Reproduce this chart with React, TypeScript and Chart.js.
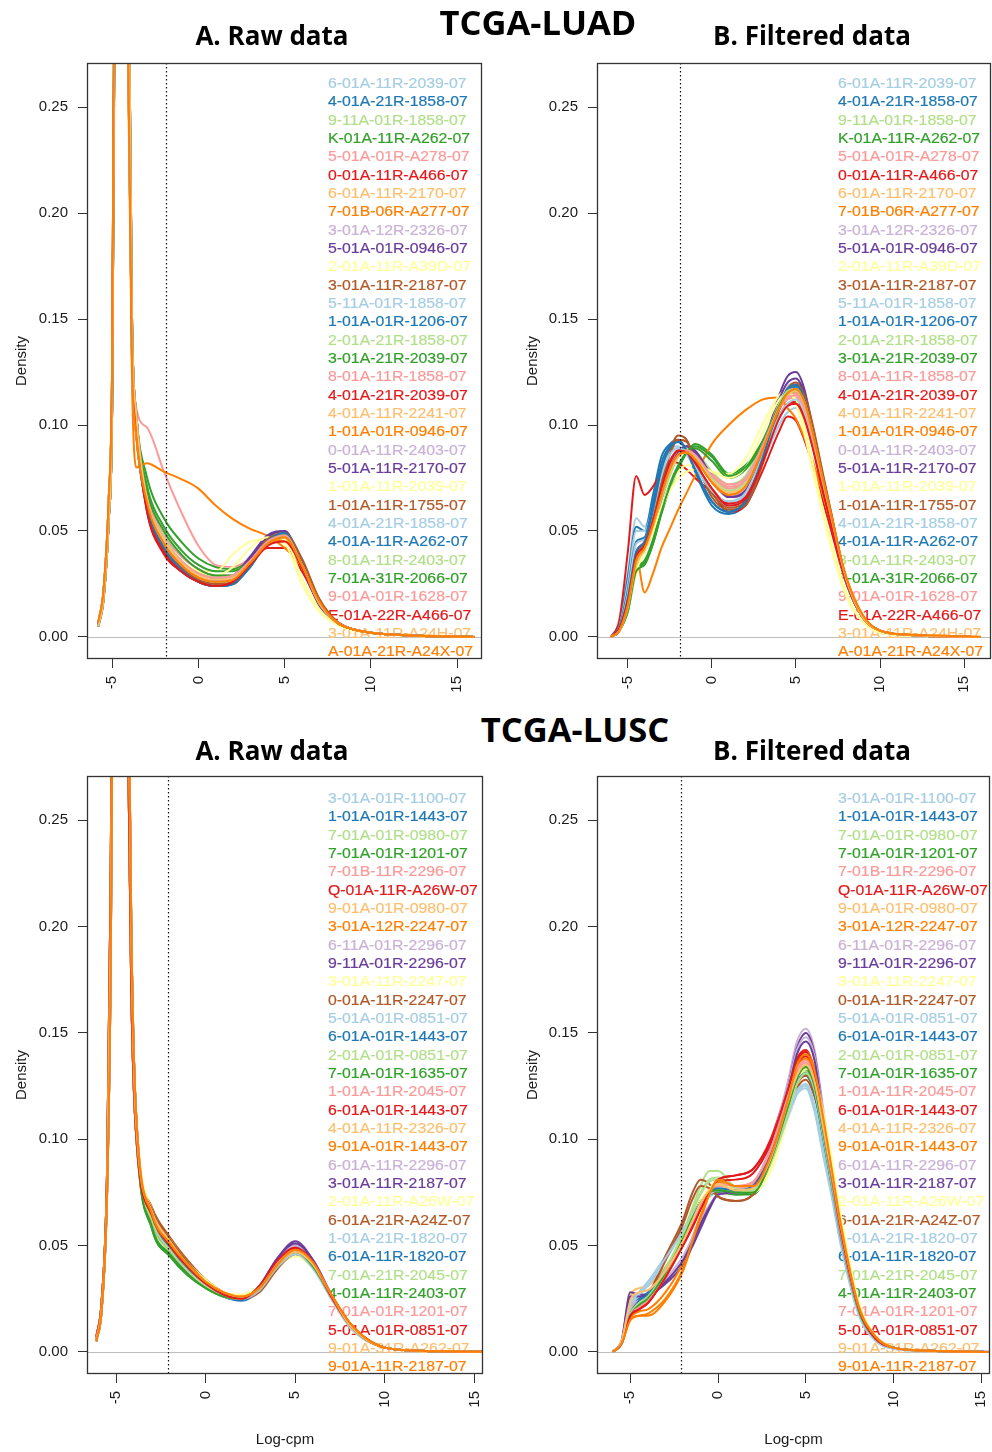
import React, { useEffect, useRef } from "react";
import { Chart, registerables } from "chart.js";

Chart.register(...registerables);

const PAIRED = ["#A6CEE3", "#1F78B4", "#B2DF8A", "#33A02C", "#FB9A99", "#E31A1C", "#FDBF6F", "#FF7F00", "#CAB2D6", "#6A3D9A", "#FFFF99", "#B15928"];

const LUAD_SAMPLES = [
  "6-01A-11R-2039-07", "4-01A-21R-1858-07", "9-11A-01R-1858-07", "K-01A-11R-A262-07",
  "5-01A-01R-A278-07", "0-01A-11R-A466-07", "6-01A-11R-2170-07", "7-01B-06R-A277-07",
  "3-01A-12R-2326-07", "5-01A-01R-0946-07", "2-01A-11R-A39D-07", "3-01A-11R-2187-07",
  "5-11A-01R-1858-07", "1-01A-01R-1206-07", "2-01A-21R-1858-07", "3-01A-21R-2039-07",
  "8-01A-11R-1858-07", "4-01A-21R-2039-07", "4-01A-11R-2241-07", "1-01A-01R-0946-07",
  "0-01A-11R-2403-07", "5-01A-11R-2170-07", "1-01A-11R-2039-07", "1-01A-11R-1755-07",
  "4-01A-21R-1858-07", "4-01A-11R-A262-07", "8-01A-11R-2403-07", "7-01A-31R-2066-07",
  "9-01A-01R-1628-07", "E-01A-22R-A466-07", "3-01A-11R-A24H-07", "A-01A-21R-A24X-07",
];

const LUSC_SAMPLES = [
  "3-01A-01R-1100-07", "1-01A-01R-1443-07", "7-01A-01R-0980-07", "7-01A-01R-1201-07",
  "7-01B-11R-2296-07", "Q-01A-11R-A26W-07", "9-01A-01R-0980-07", "3-01A-12R-2247-07",
  "6-11A-01R-2296-07", "9-11A-01R-2296-07", "3-01A-11R-2247-07", "0-01A-11R-2247-07",
  "5-01A-01R-0851-07", "6-01A-01R-1443-07", "2-01A-01R-0851-07", "7-01A-01R-1635-07",
  "1-01A-11R-2045-07", "6-01A-01R-1443-07", "4-01A-11R-2326-07", "9-01A-01R-1443-07",
  "6-01A-11R-2296-07", "3-01A-11R-2187-07", "2-01A-11R-A26W-07", "6-01A-21R-A24Z-07",
  "1-01A-21R-1820-07", "6-01A-11R-1820-07", "7-01A-21R-2045-07", "4-01A-11R-2403-07",
  "7-01A-01R-1201-07", "5-01A-01R-0851-07", "9-01A-31R-A262-07", "9-01A-11R-2187-07",
];

const X_TICKS = [-5, 0, 5, 10, 15];
const Y_TICKS = [0, 0.05, 0.1, 0.15, 0.2, 0.25];
const Y_RANGE = [-0.0104, 0.2708];
const LUAD_CUTOFF = -1.9;
const LUSC_CUTOFF = -2.1;

// ---------- TCGA-LUAD raw ----------
const LUAD_RAW_X = [-5.8, -5.5, -5.2, -5.0, -4.8, -4.4, -4.05, -3.85, -3.6, -3, -2, -1, 0, 1, 2, 3, 4, 5, 6, 7, 8, 9, 10, 12, 14, 16];
const LUAD_RAW_DENSITY = [
  [0.006, 0.02, 0.06, 0.12, 0.4, 0.62, 0.3, 0.14, 0.1, 0.066, 0.045, 0.035, 0.029, 0.026, 0.027, 0.034, 0.044, 0.047, 0.034, 0.016, 0.007, 0.0035, 0.002, 0.0008, 0.0003, 0],
  [0.005, 0.018, 0.055, 0.11, 0.38, 0.64, 0.33, 0.15, 0.105, 0.063, 0.042, 0.032, 0.026, 0.024, 0.025, 0.033, 0.044, 0.048, 0.034, 0.016, 0.007, 0.0035, 0.002, 0.0008, 0.0003, 0],
  [0.007, 0.022, 0.065, 0.13, 0.42, 0.6, 0.26, 0.13, 0.095, 0.068, 0.047, 0.036, 0.03, 0.028, 0.029, 0.036, 0.045, 0.047, 0.033, 0.015, 0.007, 0.0035, 0.002, 0.0008, 0.0003, 0],
  [0.006, 0.02, 0.06, 0.12, 0.4, 0.62, 0.3, 0.145, 0.105, 0.076, 0.056, 0.045, 0.037, 0.033, 0.032, 0.037, 0.044, 0.047, 0.033, 0.016, 0.007, 0.0035, 0.002, 0.0008, 0.0003, 0],
  [0.006, 0.02, 0.06, 0.12, 0.4, 0.62, 0.3, 0.15, 0.108, 0.099, 0.078, 0.059, 0.043, 0.034, 0.033, 0.037, 0.043, 0.047, 0.033, 0.016, 0.007, 0.0035, 0.002, 0.0008, 0.0003, 0],
  [0.005, 0.018, 0.055, 0.11, 0.38, 0.64, 0.33, 0.14, 0.098, 0.06, 0.039, 0.031, 0.027, 0.025, 0.027, 0.034, 0.042, 0.042, 0.031, 0.016, 0.007, 0.0035, 0.002, 0.0008, 0.0003, 0],
  [0.007, 0.022, 0.065, 0.13, 0.42, 0.6, 0.26, 0.13, 0.095, 0.067, 0.046, 0.035, 0.029, 0.027, 0.028, 0.035, 0.044, 0.046, 0.034, 0.016, 0.007, 0.0035, 0.002, 0.0008, 0.0003, 0],
  [0.005, 0.018, 0.055, 0.11, 0.38, 0.62, 0.25, 0.12, 0.08, 0.082, 0.078, 0.0745, 0.07, 0.062, 0.0556, 0.051, 0.0477, 0.042, 0.033, 0.016, 0.007, 0.0035, 0.002, 0.001, 0.0004, 0.0001],
  [0.006, 0.02, 0.06, 0.12, 0.4, 0.62, 0.3, 0.14, 0.1, 0.065, 0.045, 0.035, 0.029, 0.027, 0.028, 0.035, 0.045, 0.048, 0.034, 0.016, 0.007, 0.0035, 0.002, 0.0008, 0.0003, 0],
  [0.005, 0.018, 0.055, 0.11, 0.38, 0.64, 0.33, 0.15, 0.105, 0.066, 0.046, 0.036, 0.03, 0.028, 0.029, 0.038, 0.048, 0.05, 0.033, 0.015, 0.007, 0.0035, 0.002, 0.0008, 0.0003, 0],
  [0.007, 0.022, 0.065, 0.13, 0.42, 0.6, 0.26, 0.13, 0.095, 0.066, 0.046, 0.036, 0.031, 0.031, 0.039, 0.045, 0.046, 0.044, 0.025, 0.012, 0.006, 0.003, 0.002, 0.0008, 0.0003, 0],
  [0.006, 0.02, 0.06, 0.12, 0.4, 0.62, 0.3, 0.14, 0.1, 0.064, 0.044, 0.033, 0.027, 0.025, 0.025, 0.035, 0.045, 0.049, 0.036, 0.018, 0.0075, 0.0035, 0.002, 0.0008, 0.0003, 0],
  [0.005, 0.018, 0.055, 0.11, 0.38, 0.64, 0.33, 0.15, 0.105, 0.064, 0.043, 0.033, 0.027, 0.025, 0.026, 0.034, 0.045, 0.048, 0.035, 0.017, 0.007, 0.0035, 0.002, 0.0008, 0.0003, 0],
  [0.007, 0.022, 0.065, 0.13, 0.42, 0.6, 0.26, 0.13, 0.095, 0.062, 0.041, 0.031, 0.026, 0.024, 0.025, 0.034, 0.045, 0.049, 0.035, 0.017, 0.007, 0.0035, 0.002, 0.0008, 0.0003, 0],
  [0.006, 0.02, 0.06, 0.12, 0.4, 0.62, 0.3, 0.14, 0.1, 0.067, 0.046, 0.035, 0.029, 0.027, 0.028, 0.035, 0.045, 0.048, 0.034, 0.016, 0.007, 0.0035, 0.002, 0.0008, 0.0003, 0],
  [0.005, 0.018, 0.055, 0.11, 0.38, 0.64, 0.33, 0.15, 0.105, 0.072, 0.052, 0.041, 0.034, 0.031, 0.031, 0.036, 0.045, 0.048, 0.034, 0.016, 0.007, 0.0035, 0.002, 0.0008, 0.0003, 0],
  [0.007, 0.022, 0.065, 0.13, 0.42, 0.6, 0.26, 0.13, 0.095, 0.068, 0.048, 0.038, 0.032, 0.029, 0.029, 0.035, 0.044, 0.047, 0.034, 0.016, 0.007, 0.0035, 0.002, 0.0008, 0.0003, 0],
  [0.006, 0.02, 0.06, 0.12, 0.4, 0.62, 0.3, 0.14, 0.1, 0.061, 0.04, 0.031, 0.026, 0.024, 0.026, 0.034, 0.044, 0.046, 0.033, 0.016, 0.007, 0.0035, 0.002, 0.0008, 0.0003, 0],
  [0.005, 0.018, 0.055, 0.11, 0.38, 0.64, 0.33, 0.15, 0.105, 0.065, 0.045, 0.035, 0.029, 0.027, 0.028, 0.036, 0.045, 0.047, 0.034, 0.016, 0.007, 0.0035, 0.002, 0.0008, 0.0003, 0],
  [0.007, 0.022, 0.065, 0.13, 0.42, 0.6, 0.26, 0.13, 0.095, 0.063, 0.043, 0.033, 0.028, 0.026, 0.027, 0.035, 0.044, 0.046, 0.033, 0.016, 0.007, 0.0035, 0.002, 0.0008, 0.0003, 0],
  [0.006, 0.02, 0.06, 0.12, 0.4, 0.62, 0.3, 0.14, 0.1, 0.066, 0.046, 0.036, 0.03, 0.027, 0.028, 0.036, 0.046, 0.049, 0.034, 0.016, 0.007, 0.0035, 0.002, 0.0008, 0.0003, 0],
  [0.005, 0.018, 0.055, 0.11, 0.38, 0.64, 0.33, 0.15, 0.105, 0.065, 0.045, 0.035, 0.029, 0.027, 0.028, 0.037, 0.047, 0.05, 0.034, 0.016, 0.007, 0.0035, 0.002, 0.0008, 0.0003, 0],
  [0.007, 0.022, 0.065, 0.13, 0.42, 0.6, 0.26, 0.13, 0.095, 0.065, 0.046, 0.036, 0.031, 0.029, 0.033, 0.042, 0.047, 0.046, 0.028, 0.013, 0.006, 0.003, 0.002, 0.0008, 0.0003, 0],
  [0.006, 0.02, 0.06, 0.12, 0.4, 0.62, 0.3, 0.14, 0.1, 0.063, 0.043, 0.033, 0.027, 0.025, 0.026, 0.035, 0.046, 0.049, 0.037, 0.018, 0.0075, 0.0035, 0.002, 0.0008, 0.0003, 0],
  [0.005, 0.018, 0.055, 0.11, 0.38, 0.64, 0.33, 0.15, 0.105, 0.065, 0.044, 0.034, 0.028, 0.026, 0.027, 0.034, 0.044, 0.047, 0.034, 0.016, 0.007, 0.0035, 0.002, 0.0008, 0.0003, 0],
  [0.007, 0.022, 0.065, 0.13, 0.42, 0.6, 0.26, 0.13, 0.095, 0.062, 0.042, 0.032, 0.026, 0.024, 0.025, 0.033, 0.045, 0.049, 0.034, 0.016, 0.007, 0.0035, 0.002, 0.0008, 0.0003, 0],
  [0.006, 0.02, 0.06, 0.12, 0.4, 0.62, 0.3, 0.14, 0.1, 0.067, 0.047, 0.036, 0.03, 0.028, 0.029, 0.035, 0.044, 0.047, 0.034, 0.016, 0.007, 0.0035, 0.002, 0.0008, 0.0003, 0],
  [0.005, 0.018, 0.055, 0.11, 0.38, 0.64, 0.33, 0.15, 0.105, 0.07, 0.05, 0.039, 0.032, 0.029, 0.029, 0.035, 0.045, 0.048, 0.034, 0.016, 0.007, 0.0035, 0.002, 0.0008, 0.0003, 0],
  [0.007, 0.022, 0.065, 0.13, 0.42, 0.6, 0.26, 0.13, 0.095, 0.066, 0.046, 0.036, 0.03, 0.028, 0.029, 0.036, 0.045, 0.048, 0.034, 0.016, 0.007, 0.0035, 0.002, 0.0008, 0.0003, 0],
  [0.006, 0.02, 0.06, 0.12, 0.4, 0.62, 0.3, 0.14, 0.1, 0.06, 0.04, 0.031, 0.026, 0.024, 0.026, 0.034, 0.043, 0.045, 0.033, 0.016, 0.007, 0.0035, 0.002, 0.0008, 0.0003, 0],
  [0.005, 0.018, 0.055, 0.11, 0.38, 0.64, 0.33, 0.15, 0.105, 0.066, 0.046, 0.035, 0.029, 0.027, 0.028, 0.035, 0.044, 0.047, 0.034, 0.016, 0.007, 0.0035, 0.002, 0.0008, 0.0003, 0],
  [0.007, 0.022, 0.065, 0.13, 0.42, 0.6, 0.26, 0.13, 0.095, 0.064, 0.044, 0.034, 0.028, 0.026, 0.027, 0.035, 0.044, 0.047, 0.034, 0.017, 0.007, 0.0035, 0.002, 0.0008, 0.0003, 0.0001],
];

// ---------- TCGA-LUAD filtered ----------
const LUAD_FILT_X = [-6, -5.5, -5, -4.5, -4, -3.5, -3, -2.5, -2, -1.5, -1, 0, 1, 2, 3, 4, 4.5, 5, 5.5, 6, 6.5, 7, 8, 9, 10, 12, 16];
const LUAD_FILT_DENSITY = [
  [0, 0.006, 0.03, 0.056, 0.052, 0.064, 0.08, 0.089, 0.09, 0.086, 0.08, 0.068, 0.062, 0.066, 0.082, 0.1, 0.106, 0.108, 0.103, 0.09, 0.073, 0.057, 0.026, 0.009, 0.003, 0.0008, 0],
  [0, 0.006, 0.028, 0.052, 0.05, 0.067, 0.085, 0.091, 0.093, 0.088, 0.078, 0.062, 0.058, 0.063, 0.083, 0.108, 0.117, 0.119, 0.112, 0.095, 0.076, 0.058, 0.026, 0.009, 0.003, 0.0008, 0],
  [0, 0.003, 0.014, 0.033, 0.04, 0.05, 0.064, 0.076, 0.085, 0.089, 0.088, 0.078, 0.072, 0.076, 0.092, 0.11, 0.115, 0.116, 0.11, 0.095, 0.077, 0.06, 0.027, 0.009, 0.003, 0.0008, 0],
  [0, 0.003, 0.012, 0.031, 0.035, 0.044, 0.058, 0.07, 0.079, 0.087, 0.091, 0.086, 0.077, 0.081, 0.092, 0.108, 0.114, 0.115, 0.109, 0.095, 0.077, 0.06, 0.027, 0.009, 0.003, 0.0008, 0],
  [0, 0.003, 0.015, 0.036, 0.042, 0.053, 0.067, 0.079, 0.086, 0.088, 0.086, 0.077, 0.072, 0.075, 0.09, 0.107, 0.112, 0.113, 0.107, 0.093, 0.076, 0.059, 0.027, 0.009, 0.003, 0.0008, 0],
  [0, 0.008, 0.04, 0.076, 0.067, 0.071, 0.078, 0.083, 0.082, 0.079, 0.075, 0.068, 0.059, 0.062, 0.078, 0.097, 0.104, 0.102, 0.093, 0.081, 0.067, 0.053, 0.025, 0.009, 0.003, 0.0008, 0],
  [0, 0.003, 0.014, 0.034, 0.041, 0.052, 0.066, 0.078, 0.085, 0.087, 0.084, 0.074, 0.068, 0.071, 0.088, 0.108, 0.114, 0.115, 0.109, 0.095, 0.077, 0.06, 0.027, 0.009, 0.003, 0.0008, 0],
  [0, 0.004, 0.018, 0.038, 0.021, 0.03, 0.042, 0.051, 0.06, 0.068, 0.076, 0.091, 0.1, 0.107, 0.112, 0.113, 0.108, 0.103, 0.094, 0.083, 0.07, 0.056, 0.028, 0.01, 0.003, 0.001, 0.0001],
  [0, 0.003, 0.015, 0.037, 0.043, 0.054, 0.068, 0.08, 0.087, 0.088, 0.085, 0.073, 0.066, 0.069, 0.087, 0.11, 0.118, 0.12, 0.113, 0.097, 0.078, 0.06, 0.027, 0.009, 0.003, 0.0008, 0],
  [0, 0.003, 0.016, 0.038, 0.042, 0.052, 0.065, 0.078, 0.087, 0.09, 0.088, 0.076, 0.066, 0.068, 0.088, 0.114, 0.123, 0.125, 0.117, 0.098, 0.078, 0.06, 0.026, 0.009, 0.003, 0.0008, 0],
  [0, 0.003, 0.013, 0.03, 0.04, 0.05, 0.06, 0.069, 0.075, 0.078, 0.079, 0.078, 0.077, 0.084, 0.1, 0.114, 0.116, 0.11, 0.096, 0.078, 0.061, 0.045, 0.019, 0.007, 0.002, 0.0006, 0],
  [0, 0.004, 0.017, 0.04, 0.044, 0.057, 0.074, 0.088, 0.095, 0.093, 0.084, 0.066, 0.06, 0.062, 0.081, 0.107, 0.117, 0.12, 0.115, 0.1, 0.081, 0.062, 0.027, 0.009, 0.003, 0.0008, 0],
  [0, 0.005, 0.025, 0.05, 0.05, 0.062, 0.078, 0.087, 0.089, 0.086, 0.08, 0.069, 0.063, 0.067, 0.084, 0.103, 0.109, 0.111, 0.105, 0.091, 0.074, 0.057, 0.026, 0.009, 0.003, 0.0008, 0],
  [0, 0.005, 0.022, 0.045, 0.047, 0.063, 0.082, 0.09, 0.092, 0.088, 0.079, 0.064, 0.059, 0.064, 0.084, 0.108, 0.116, 0.118, 0.111, 0.095, 0.076, 0.058, 0.026, 0.009, 0.003, 0.0008, 0],
  [0, 0.003, 0.014, 0.034, 0.04, 0.051, 0.065, 0.077, 0.085, 0.088, 0.086, 0.076, 0.07, 0.074, 0.09, 0.109, 0.115, 0.117, 0.111, 0.096, 0.078, 0.06, 0.027, 0.009, 0.003, 0.0008, 0],
  [0, 0.003, 0.013, 0.032, 0.036, 0.046, 0.06, 0.072, 0.081, 0.087, 0.089, 0.083, 0.075, 0.079, 0.091, 0.109, 0.115, 0.116, 0.11, 0.095, 0.077, 0.06, 0.027, 0.009, 0.003, 0.0008, 0],
  [0, 0.003, 0.015, 0.037, 0.043, 0.054, 0.068, 0.08, 0.087, 0.088, 0.085, 0.075, 0.07, 0.073, 0.089, 0.108, 0.114, 0.115, 0.109, 0.094, 0.076, 0.059, 0.027, 0.009, 0.003, 0.0008, 0],
  [0, 0.004, 0.018, 0.04, 0.045, 0.057, 0.072, 0.083, 0.088, 0.087, 0.082, 0.07, 0.063, 0.066, 0.083, 0.104, 0.11, 0.111, 0.104, 0.09, 0.073, 0.057, 0.026, 0.009, 0.003, 0.0008, 0],
  [0, 0.003, 0.014, 0.035, 0.042, 0.053, 0.067, 0.079, 0.086, 0.088, 0.085, 0.075, 0.069, 0.072, 0.089, 0.109, 0.115, 0.116, 0.11, 0.095, 0.077, 0.06, 0.027, 0.009, 0.003, 0.0008, 0],
  [0, 0.003, 0.015, 0.036, 0.042, 0.053, 0.067, 0.079, 0.086, 0.087, 0.084, 0.073, 0.067, 0.07, 0.087, 0.108, 0.115, 0.117, 0.111, 0.096, 0.078, 0.06, 0.027, 0.009, 0.003, 0.0008, 0],
  [0, 0.003, 0.015, 0.037, 0.043, 0.054, 0.068, 0.08, 0.087, 0.088, 0.085, 0.074, 0.067, 0.07, 0.088, 0.11, 0.117, 0.119, 0.112, 0.096, 0.077, 0.06, 0.027, 0.009, 0.003, 0.0008, 0],
  [0, 0.003, 0.016, 0.038, 0.042, 0.052, 0.066, 0.079, 0.087, 0.09, 0.087, 0.075, 0.066, 0.069, 0.088, 0.112, 0.12, 0.122, 0.115, 0.097, 0.078, 0.06, 0.026, 0.009, 0.003, 0.0008, 0],
  [0, 0.003, 0.013, 0.031, 0.04, 0.05, 0.061, 0.071, 0.078, 0.081, 0.081, 0.078, 0.075, 0.08, 0.096, 0.112, 0.115, 0.112, 0.1, 0.082, 0.064, 0.048, 0.021, 0.007, 0.002, 0.0006, 0],
  [0, 0.004, 0.017, 0.039, 0.044, 0.056, 0.072, 0.086, 0.093, 0.092, 0.084, 0.068, 0.061, 0.064, 0.083, 0.108, 0.117, 0.119, 0.114, 0.099, 0.08, 0.062, 0.027, 0.009, 0.003, 0.0008, 0],
  [0, 0.004, 0.02, 0.044, 0.046, 0.059, 0.076, 0.086, 0.089, 0.087, 0.081, 0.069, 0.064, 0.068, 0.085, 0.104, 0.11, 0.112, 0.106, 0.092, 0.075, 0.058, 0.026, 0.009, 0.003, 0.0008, 0],
  [0, 0.004, 0.018, 0.04, 0.045, 0.06, 0.079, 0.089, 0.092, 0.088, 0.079, 0.064, 0.059, 0.064, 0.084, 0.109, 0.117, 0.119, 0.112, 0.096, 0.077, 0.059, 0.026, 0.009, 0.003, 0.0008, 0],
  [0, 0.003, 0.014, 0.034, 0.041, 0.052, 0.066, 0.078, 0.086, 0.088, 0.085, 0.075, 0.069, 0.073, 0.09, 0.11, 0.116, 0.117, 0.111, 0.096, 0.078, 0.06, 0.027, 0.009, 0.003, 0.0008, 0],
  [0, 0.003, 0.012, 0.031, 0.034, 0.044, 0.059, 0.071, 0.08, 0.087, 0.09, 0.085, 0.076, 0.08, 0.092, 0.109, 0.115, 0.116, 0.11, 0.095, 0.077, 0.06, 0.027, 0.009, 0.003, 0.0008, 0],
  [0, 0.003, 0.015, 0.036, 0.042, 0.053, 0.067, 0.079, 0.086, 0.088, 0.086, 0.076, 0.071, 0.074, 0.09, 0.108, 0.113, 0.114, 0.108, 0.093, 0.076, 0.059, 0.027, 0.009, 0.003, 0.0008, 0],
  [0, 0.004, 0.017, 0.038, 0.043, 0.055, 0.07, 0.082, 0.088, 0.087, 0.082, 0.07, 0.062, 0.065, 0.082, 0.103, 0.109, 0.11, 0.103, 0.089, 0.072, 0.056, 0.026, 0.009, 0.003, 0.0008, 0],
  [0, 0.003, 0.014, 0.035, 0.041, 0.052, 0.066, 0.078, 0.085, 0.087, 0.084, 0.074, 0.068, 0.071, 0.088, 0.108, 0.114, 0.116, 0.11, 0.095, 0.077, 0.06, 0.027, 0.009, 0.003, 0.0008, 0],
  [0, 0.003, 0.015, 0.036, 0.042, 0.053, 0.067, 0.079, 0.086, 0.087, 0.084, 0.073, 0.067, 0.071, 0.088, 0.108, 0.115, 0.117, 0.111, 0.096, 0.078, 0.061, 0.028, 0.01, 0.003, 0.001, 0.0001],
];

// ---------- TCGA-LUSC raw ----------
const LUSC_RAW_X = [-6.1, -5.8, -5.5, -5.3, -5.1, -4.7, -4.35, -4.15, -3.9, -3, -2, -1, 0, 1, 2, 3, 4, 5, 6, 7, 8, 9, 10, 12, 14, 15.5];
const LUSC_RAW_DENSITY = [
  [0.006, 0.022, 0.08, 0.2, 0.45, 0.62, 0.34, 0.19, 0.11, 0.066, 0.052, 0.041, 0.033, 0.027, 0.025, 0.029, 0.04, 0.046, 0.039, 0.025, 0.012, 0.005, 0.002, 0.0005, 0.0002, 0],
  [0.005, 0.02, 0.075, 0.18, 0.42, 0.64, 0.36, 0.2, 0.115, 0.063, 0.049, 0.039, 0.031, 0.026, 0.024, 0.029, 0.041, 0.048, 0.041, 0.026, 0.013, 0.0055, 0.002, 0.0005, 0.0002, 0],
  [0.007, 0.024, 0.085, 0.22, 0.48, 0.6, 0.3, 0.17, 0.105, 0.062, 0.048, 0.039, 0.032, 0.027, 0.025, 0.029, 0.04, 0.046, 0.04, 0.026, 0.013, 0.0055, 0.002, 0.0005, 0.0002, 0],
  [0.006, 0.022, 0.08, 0.2, 0.45, 0.62, 0.34, 0.19, 0.11, 0.058, 0.045, 0.036, 0.03, 0.026, 0.025, 0.03, 0.041, 0.047, 0.04, 0.026, 0.013, 0.0055, 0.002, 0.0005, 0.0002, 0],
  [0.005, 0.02, 0.075, 0.18, 0.42, 0.64, 0.36, 0.2, 0.115, 0.065, 0.051, 0.041, 0.033, 0.028, 0.026, 0.03, 0.042, 0.048, 0.041, 0.026, 0.013, 0.0055, 0.002, 0.0005, 0.0002, 0],
  [0.007, 0.024, 0.085, 0.22, 0.48, 0.6, 0.3, 0.17, 0.105, 0.064, 0.05, 0.04, 0.032, 0.027, 0.025, 0.031, 0.043, 0.05, 0.042, 0.026, 0.013, 0.0055, 0.002, 0.0005, 0.0002, 0],
  [0.006, 0.022, 0.08, 0.2, 0.45, 0.62, 0.34, 0.19, 0.11, 0.067, 0.052, 0.041, 0.033, 0.028, 0.026, 0.03, 0.041, 0.047, 0.041, 0.027, 0.013, 0.0055, 0.002, 0.0005, 0.0002, 0],
  [0.005, 0.02, 0.075, 0.18, 0.42, 0.64, 0.36, 0.2, 0.115, 0.066, 0.052, 0.042, 0.034, 0.028, 0.026, 0.03, 0.041, 0.048, 0.042, 0.027, 0.014, 0.006, 0.002, 0.0005, 0.0002, 0],
  [0.007, 0.024, 0.085, 0.22, 0.48, 0.6, 0.3, 0.17, 0.105, 0.063, 0.049, 0.039, 0.031, 0.026, 0.025, 0.031, 0.044, 0.051, 0.043, 0.027, 0.013, 0.0055, 0.002, 0.0005, 0.0002, 0],
  [0.006, 0.022, 0.08, 0.2, 0.45, 0.62, 0.34, 0.19, 0.11, 0.062, 0.048, 0.038, 0.031, 0.026, 0.025, 0.031, 0.044, 0.052, 0.043, 0.027, 0.013, 0.0055, 0.002, 0.0005, 0.0002, 0.0001],
  [0.005, 0.02, 0.075, 0.18, 0.42, 0.64, 0.36, 0.2, 0.115, 0.068, 0.054, 0.043, 0.034, 0.028, 0.027, 0.031, 0.04, 0.045, 0.039, 0.025, 0.012, 0.005, 0.002, 0.0005, 0.0002, 0],
  [0.007, 0.024, 0.085, 0.22, 0.48, 0.6, 0.3, 0.17, 0.105, 0.068, 0.054, 0.043, 0.034, 0.028, 0.025, 0.028, 0.039, 0.046, 0.041, 0.027, 0.014, 0.006, 0.002, 0.0005, 0.0002, 0],
  [0.006, 0.022, 0.08, 0.2, 0.45, 0.62, 0.34, 0.19, 0.11, 0.065, 0.051, 0.04, 0.032, 0.027, 0.025, 0.029, 0.04, 0.046, 0.04, 0.026, 0.013, 0.0055, 0.002, 0.0005, 0.0002, 0],
  [0.005, 0.02, 0.075, 0.18, 0.42, 0.64, 0.36, 0.2, 0.115, 0.064, 0.05, 0.04, 0.032, 0.027, 0.025, 0.03, 0.042, 0.049, 0.042, 0.027, 0.013, 0.0055, 0.002, 0.0005, 0.0002, 0],
  [0.007, 0.024, 0.085, 0.22, 0.48, 0.6, 0.3, 0.17, 0.105, 0.061, 0.047, 0.038, 0.031, 0.026, 0.025, 0.03, 0.041, 0.047, 0.04, 0.026, 0.013, 0.0055, 0.002, 0.0005, 0.0002, 0],
  [0.006, 0.022, 0.08, 0.2, 0.45, 0.62, 0.34, 0.19, 0.11, 0.059, 0.046, 0.037, 0.031, 0.027, 0.025, 0.03, 0.041, 0.047, 0.041, 0.026, 0.013, 0.0055, 0.002, 0.0005, 0.0002, 0],
  [0.005, 0.02, 0.075, 0.18, 0.42, 0.64, 0.36, 0.2, 0.115, 0.066, 0.051, 0.041, 0.033, 0.028, 0.026, 0.03, 0.042, 0.048, 0.041, 0.026, 0.013, 0.0055, 0.002, 0.0005, 0.0002, 0],
  [0.007, 0.024, 0.085, 0.22, 0.48, 0.6, 0.3, 0.17, 0.105, 0.064, 0.05, 0.04, 0.032, 0.027, 0.025, 0.03, 0.042, 0.049, 0.042, 0.026, 0.013, 0.0055, 0.002, 0.0005, 0.0002, 0],
  [0.006, 0.022, 0.08, 0.2, 0.45, 0.62, 0.34, 0.19, 0.11, 0.066, 0.052, 0.041, 0.033, 0.028, 0.026, 0.03, 0.041, 0.047, 0.041, 0.027, 0.013, 0.0055, 0.002, 0.0005, 0.0002, 0],
  [0.005, 0.02, 0.075, 0.18, 0.42, 0.64, 0.36, 0.2, 0.115, 0.065, 0.051, 0.041, 0.033, 0.028, 0.026, 0.03, 0.041, 0.047, 0.041, 0.027, 0.014, 0.006, 0.002, 0.0005, 0.0002, 0],
  [0.007, 0.024, 0.085, 0.22, 0.48, 0.6, 0.3, 0.17, 0.105, 0.063, 0.049, 0.039, 0.031, 0.026, 0.025, 0.031, 0.043, 0.05, 0.043, 0.027, 0.013, 0.0055, 0.002, 0.0005, 0.0002, 0],
  [0.006, 0.022, 0.08, 0.2, 0.45, 0.62, 0.34, 0.19, 0.11, 0.062, 0.048, 0.038, 0.031, 0.026, 0.025, 0.031, 0.044, 0.051, 0.043, 0.027, 0.013, 0.0055, 0.002, 0.0005, 0.0002, 0],
  [0.005, 0.02, 0.075, 0.18, 0.42, 0.64, 0.36, 0.2, 0.115, 0.067, 0.053, 0.042, 0.034, 0.028, 0.026, 0.03, 0.04, 0.046, 0.04, 0.026, 0.013, 0.005, 0.002, 0.0005, 0.0002, 0],
  [0.007, 0.024, 0.085, 0.22, 0.48, 0.6, 0.3, 0.17, 0.105, 0.067, 0.053, 0.042, 0.033, 0.028, 0.025, 0.029, 0.04, 0.046, 0.041, 0.027, 0.014, 0.006, 0.002, 0.0005, 0.0002, 0],
  [0.006, 0.022, 0.08, 0.2, 0.45, 0.62, 0.34, 0.19, 0.11, 0.065, 0.051, 0.041, 0.033, 0.027, 0.025, 0.029, 0.04, 0.046, 0.039, 0.025, 0.012, 0.005, 0.002, 0.0005, 0.0002, 0],
  [0.005, 0.02, 0.075, 0.18, 0.42, 0.64, 0.36, 0.2, 0.115, 0.063, 0.049, 0.039, 0.031, 0.026, 0.025, 0.03, 0.042, 0.048, 0.041, 0.026, 0.013, 0.0055, 0.002, 0.0005, 0.0002, 0],
  [0.007, 0.024, 0.085, 0.22, 0.48, 0.6, 0.3, 0.17, 0.105, 0.062, 0.048, 0.038, 0.031, 0.026, 0.025, 0.03, 0.041, 0.047, 0.04, 0.026, 0.013, 0.0055, 0.002, 0.0005, 0.0002, 0],
  [0.006, 0.022, 0.08, 0.2, 0.45, 0.62, 0.34, 0.19, 0.11, 0.058, 0.045, 0.036, 0.03, 0.026, 0.025, 0.03, 0.041, 0.047, 0.04, 0.026, 0.013, 0.0055, 0.002, 0.0005, 0.0002, 0],
  [0.005, 0.02, 0.075, 0.18, 0.42, 0.64, 0.36, 0.2, 0.115, 0.065, 0.05, 0.04, 0.032, 0.027, 0.025, 0.03, 0.042, 0.048, 0.041, 0.026, 0.013, 0.0055, 0.002, 0.0005, 0.0002, 0],
  [0.007, 0.024, 0.085, 0.22, 0.48, 0.6, 0.3, 0.17, 0.105, 0.064, 0.05, 0.04, 0.032, 0.027, 0.025, 0.031, 0.043, 0.049, 0.042, 0.026, 0.013, 0.0055, 0.002, 0.0005, 0.0002, 0],
  [0.006, 0.022, 0.08, 0.2, 0.45, 0.62, 0.34, 0.19, 0.11, 0.066, 0.052, 0.041, 0.033, 0.028, 0.026, 0.03, 0.041, 0.047, 0.041, 0.027, 0.013, 0.0055, 0.002, 0.0005, 0.0002, 0],
  [0.005, 0.02, 0.075, 0.18, 0.42, 0.64, 0.36, 0.2, 0.115, 0.065, 0.051, 0.041, 0.033, 0.028, 0.026, 0.03, 0.041, 0.048, 0.042, 0.027, 0.014, 0.006, 0.002, 0.0005, 0.0002, 0],
];

// ---------- TCGA-LUSC filtered ----------
const LUSC_FILT_X = [-6, -5.5, -5, -4.5, -4, -3, -2, -1.5, -1, -0.5, 0, 1, 2, 3, 4, 4.5, 5, 5.5, 6, 6.5, 7, 8, 9, 10, 12, 15.5];
const LUSC_FILT_DENSITY = [
  [0, 0.005, 0.02, 0.028, 0.033, 0.045, 0.058, 0.064, 0.07, 0.073, 0.075, 0.075, 0.076, 0.088, 0.11, 0.121, 0.124, 0.113, 0.092, 0.072, 0.05, 0.018, 0.005, 0.0015, 0.0004, 0],
  [0, 0.004, 0.018, 0.024, 0.027, 0.038, 0.053, 0.062, 0.069, 0.074, 0.076, 0.075, 0.077, 0.09, 0.114, 0.126, 0.13, 0.121, 0.1, 0.077, 0.054, 0.02, 0.006, 0.002, 0.0005, 0],
  [0, 0.004, 0.018, 0.023, 0.026, 0.038, 0.056, 0.067, 0.078, 0.085, 0.085, 0.077, 0.075, 0.087, 0.112, 0.125, 0.131, 0.123, 0.102, 0.079, 0.055, 0.02, 0.006, 0.002, 0.0005, 0],
  [0, 0.004, 0.017, 0.022, 0.025, 0.037, 0.053, 0.062, 0.07, 0.074, 0.075, 0.074, 0.074, 0.09, 0.117, 0.13, 0.134, 0.125, 0.103, 0.08, 0.056, 0.02, 0.006, 0.002, 0.0005, 0],
  [0, 0.004, 0.017, 0.021, 0.024, 0.035, 0.051, 0.06, 0.068, 0.075, 0.079, 0.078, 0.08, 0.096, 0.122, 0.134, 0.138, 0.129, 0.106, 0.082, 0.057, 0.021, 0.006, 0.002, 0.0005, 0],
  [0, 0.004, 0.017, 0.02, 0.023, 0.035, 0.05, 0.058, 0.067, 0.075, 0.081, 0.083, 0.086, 0.1, 0.125, 0.138, 0.142, 0.132, 0.107, 0.082, 0.057, 0.021, 0.006, 0.002, 0.0005, 0],
  [0, 0.005, 0.026, 0.03, 0.031, 0.04, 0.053, 0.062, 0.07, 0.076, 0.079, 0.076, 0.077, 0.091, 0.118, 0.13, 0.135, 0.127, 0.106, 0.083, 0.059, 0.022, 0.007, 0.002, 0.0005, 0],
  [0, 0.004, 0.015, 0.017, 0.017, 0.024, 0.038, 0.05, 0.062, 0.074, 0.081, 0.078, 0.078, 0.092, 0.12, 0.136, 0.141, 0.133, 0.11, 0.085, 0.06, 0.022, 0.007, 0.002, 0.0005, 0],
  [0, 0.004, 0.022, 0.025, 0.026, 0.033, 0.043, 0.051, 0.06, 0.068, 0.074, 0.075, 0.079, 0.097, 0.128, 0.146, 0.152, 0.142, 0.114, 0.087, 0.06, 0.021, 0.006, 0.002, 0.0005, 0],
  [0, 0.005, 0.028, 0.027, 0.027, 0.032, 0.041, 0.049, 0.058, 0.067, 0.074, 0.075, 0.078, 0.095, 0.125, 0.143, 0.15, 0.14, 0.112, 0.086, 0.058, 0.02, 0.006, 0.002, 0.0005, 0.0001],
  [0, 0.004, 0.018, 0.022, 0.025, 0.036, 0.052, 0.061, 0.07, 0.077, 0.08, 0.077, 0.075, 0.085, 0.11, 0.124, 0.132, 0.13, 0.113, 0.09, 0.064, 0.024, 0.007, 0.002, 0.0005, 0],
  [0, 0.004, 0.018, 0.021, 0.026, 0.045, 0.062, 0.074, 0.081, 0.079, 0.073, 0.071, 0.074, 0.088, 0.112, 0.124, 0.128, 0.12, 0.103, 0.08, 0.056, 0.021, 0.006, 0.002, 0.0005, 0],
  [0, 0.005, 0.021, 0.027, 0.031, 0.043, 0.057, 0.064, 0.07, 0.074, 0.076, 0.076, 0.077, 0.089, 0.112, 0.123, 0.126, 0.116, 0.095, 0.074, 0.052, 0.019, 0.006, 0.002, 0.0005, 0],
  [0, 0.004, 0.019, 0.025, 0.028, 0.039, 0.054, 0.063, 0.07, 0.074, 0.076, 0.075, 0.077, 0.091, 0.116, 0.128, 0.132, 0.123, 0.101, 0.078, 0.055, 0.02, 0.006, 0.002, 0.0005, 0],
  [0, 0.004, 0.018, 0.023, 0.027, 0.039, 0.056, 0.066, 0.075, 0.081, 0.082, 0.077, 0.076, 0.089, 0.114, 0.127, 0.132, 0.124, 0.102, 0.079, 0.055, 0.02, 0.006, 0.002, 0.0005, 0],
  [0, 0.004, 0.017, 0.022, 0.025, 0.037, 0.054, 0.063, 0.071, 0.075, 0.076, 0.074, 0.075, 0.09, 0.116, 0.129, 0.133, 0.124, 0.102, 0.079, 0.055, 0.02, 0.006, 0.002, 0.0005, 0],
  [0, 0.004, 0.018, 0.022, 0.025, 0.036, 0.052, 0.061, 0.069, 0.075, 0.078, 0.077, 0.079, 0.094, 0.12, 0.132, 0.136, 0.127, 0.104, 0.08, 0.056, 0.021, 0.006, 0.002, 0.0005, 0],
  [0, 0.004, 0.017, 0.021, 0.024, 0.036, 0.051, 0.059, 0.068, 0.075, 0.08, 0.081, 0.084, 0.098, 0.123, 0.135, 0.139, 0.13, 0.106, 0.081, 0.057, 0.021, 0.006, 0.002, 0.0005, 0],
  [0, 0.004, 0.02, 0.024, 0.026, 0.036, 0.052, 0.061, 0.07, 0.076, 0.079, 0.076, 0.077, 0.09, 0.117, 0.13, 0.135, 0.128, 0.107, 0.084, 0.06, 0.022, 0.007, 0.002, 0.0005, 0],
  [0, 0.004, 0.016, 0.019, 0.02, 0.028, 0.042, 0.053, 0.064, 0.074, 0.08, 0.078, 0.078, 0.091, 0.118, 0.133, 0.138, 0.13, 0.108, 0.084, 0.059, 0.022, 0.007, 0.002, 0.0005, 0],
  [0, 0.004, 0.021, 0.024, 0.026, 0.034, 0.045, 0.053, 0.062, 0.069, 0.074, 0.075, 0.078, 0.095, 0.125, 0.142, 0.148, 0.139, 0.112, 0.086, 0.059, 0.021, 0.006, 0.002, 0.0005, 0],
  [0, 0.005, 0.026, 0.026, 0.027, 0.033, 0.043, 0.051, 0.06, 0.068, 0.074, 0.075, 0.078, 0.094, 0.123, 0.14, 0.146, 0.137, 0.11, 0.085, 0.058, 0.02, 0.006, 0.002, 0.0005, 0],
  [0, 0.004, 0.018, 0.022, 0.025, 0.037, 0.053, 0.062, 0.071, 0.077, 0.079, 0.076, 0.075, 0.087, 0.112, 0.126, 0.133, 0.13, 0.112, 0.088, 0.063, 0.023, 0.007, 0.002, 0.0005, 0],
  [0, 0.004, 0.018, 0.022, 0.026, 0.043, 0.06, 0.071, 0.078, 0.077, 0.073, 0.071, 0.074, 0.089, 0.114, 0.126, 0.13, 0.122, 0.104, 0.081, 0.057, 0.021, 0.006, 0.002, 0.0005, 0],
  [0, 0.005, 0.022, 0.028, 0.032, 0.044, 0.057, 0.064, 0.07, 0.074, 0.076, 0.076, 0.077, 0.089, 0.111, 0.122, 0.125, 0.114, 0.093, 0.073, 0.051, 0.018, 0.005, 0.0015, 0.0004, 0],
  [0, 0.004, 0.018, 0.024, 0.027, 0.038, 0.053, 0.062, 0.07, 0.075, 0.077, 0.076, 0.078, 0.091, 0.115, 0.127, 0.131, 0.122, 0.1, 0.077, 0.054, 0.02, 0.006, 0.002, 0.0005, 0],
  [0, 0.004, 0.018, 0.023, 0.026, 0.038, 0.055, 0.065, 0.074, 0.08, 0.081, 0.077, 0.076, 0.089, 0.113, 0.126, 0.131, 0.123, 0.101, 0.078, 0.055, 0.02, 0.006, 0.002, 0.0005, 0],
  [0, 0.004, 0.017, 0.022, 0.025, 0.037, 0.053, 0.062, 0.07, 0.075, 0.076, 0.075, 0.075, 0.09, 0.116, 0.129, 0.134, 0.125, 0.103, 0.08, 0.056, 0.02, 0.006, 0.002, 0.0005, 0],
  [0, 0.004, 0.017, 0.021, 0.024, 0.035, 0.051, 0.06, 0.068, 0.075, 0.079, 0.078, 0.08, 0.095, 0.121, 0.133, 0.137, 0.128, 0.105, 0.081, 0.056, 0.021, 0.006, 0.002, 0.0005, 0],
  [0, 0.004, 0.017, 0.02, 0.023, 0.035, 0.05, 0.058, 0.067, 0.075, 0.081, 0.083, 0.086, 0.099, 0.124, 0.137, 0.141, 0.131, 0.107, 0.082, 0.057, 0.021, 0.006, 0.002, 0.0005, 0],
  [0, 0.005, 0.024, 0.028, 0.029, 0.038, 0.052, 0.061, 0.07, 0.076, 0.079, 0.076, 0.077, 0.091, 0.118, 0.13, 0.135, 0.127, 0.106, 0.083, 0.059, 0.022, 0.007, 0.002, 0.0005, 0],
  [0, 0.004, 0.015, 0.017, 0.018, 0.025, 0.039, 0.051, 0.063, 0.074, 0.081, 0.078, 0.078, 0.092, 0.119, 0.135, 0.14, 0.132, 0.11, 0.085, 0.06, 0.022, 0.007, 0.002, 0.0005, 0],
];

const AXIS_FONT = '"Liberation Sans", Arial, Helvetica, sans-serif';
const TITLE_FONT = '"Open Sans", "Noto Sans", sans-serif';

type Box = { left: number; top: number; right: number; bottom: number };
type PanelCfg = {
  canvas: { left: number; top: number; width: number; height: number };
  area: Box;
  xMin: number;
  xMax: number;
  xs: number[];
  ys: number[][];
  labels: string[];
  cutoff: number;
  xTitle: boolean;
  yTitlePad: number;
  legendDy: number;
};

const PANELS: PanelCfg[] = [
  {
    canvas: { left: 0, top: 40, width: 512, height: 660 },
    area: { left: 87, top: 63, right: 482, bottom: 659 },
    xMin: -6.46, xMax: 16.44, xs: LUAD_RAW_X, ys: LUAD_RAW_DENSITY, labels: LUAD_SAMPLES,
    cutoff: LUAD_CUTOFF, xTitle: false, yTitlePad: 13, legendDy: 25,
  },
  {
    canvas: { left: 510, top: 40, width: 512, height: 660 },
    area: { left: 597, top: 63, right: 991, bottom: 659 },
    xMin: -6.83, xMax: 16.6, xs: LUAD_FILT_X, ys: LUAD_FILT_DENSITY, labels: LUAD_SAMPLES,
    cutoff: LUAD_CUTOFF, xTitle: false, yTitlePad: 14, legendDy: 25,
  },
  {
    canvas: { left: 0, top: 753, width: 513, height: 699 },
    area: { left: 87, top: 776, right: 483, bottom: 1374 },
    xMin: -6.62, xMax: 15.47, xs: LUSC_RAW_X, ys: LUSC_RAW_DENSITY, labels: LUSC_SAMPLES,
    cutoff: LUSC_CUTOFF, xTitle: true, yTitlePad: 13, legendDy: 27,
  },
  {
    canvas: { left: 510, top: 753, width: 510, height: 699 },
    area: { left: 597, top: 776, right: 990, bottom: 1374 },
    xMin: -6.9, xMax: 15.5, xs: LUSC_FILT_X, ys: LUSC_FILT_DENSITY, labels: LUSC_SAMPLES,
    cutoff: LUSC_CUTOFF, xTitle: true, yTitlePad: 14, legendDy: 27,
  },
];

function Panel({ cfg }: { cfg: PanelCfg }) {
  const ref = useRef<HTMLCanvasElement>(null);
  useEffect(() => {
    const c = cfg;
    const yAxisW = c.area.left - c.canvas.left;
    const padTop = c.area.top - c.canvas.top;
    const padRight = c.canvas.left + c.canvas.width - c.area.right;
    const xAxisH = c.canvas.top + c.canvas.height - c.area.bottom;

    const deco = {
      id: "deco",
      beforeDatasetsDraw(chart: any) {
        const { ctx, chartArea: a } = chart;
        const y = chart.scales.y;
        ctx.save();
        ctx.strokeStyle = "#BEBEBE";
        ctx.lineWidth = 1;
        const yz = Math.round(y.getPixelForValue(0)) + 0.5;
        ctx.beginPath();
        ctx.moveTo(a.left, yz);
        ctx.lineTo(a.right, yz);
        ctx.stroke();
        ctx.font = `14px ${AXIS_FONT}`;
        ctx.textAlign = "left";
        ctx.textBaseline = "alphabetic";
        ctx.lineWidth = 0.2;
        c.labels.forEach((t, i) => {
          ctx.save();
          ctx.translate(a.left + 241, a.top + c.legendDy + i * 18.33);
          ctx.scale(1.13, 1);
          ctx.fillStyle = PAIRED[i % 12];
          ctx.strokeStyle = PAIRED[i % 12];
          ctx.fillText(t, 0, 0);
          ctx.strokeText(t, 0, 0);
          ctx.restore();
        });
        ctx.restore();
      },
      afterDatasetsDraw(chart: any) {
        const { ctx, chartArea: a } = chart;
        const x = chart.scales.x;
        ctx.save();
        const xc = Math.round(x.getPixelForValue(c.cutoff)) + 0.5;
        ctx.strokeStyle = "#111";
        ctx.lineWidth = 1.2;
        ctx.setLineDash([1.5, 2.5]);
        ctx.beginPath();
        ctx.moveTo(xc, a.top);
        ctx.lineTo(xc, a.bottom);
        ctx.stroke();
        ctx.setLineDash([]);
        ctx.strokeStyle = "#333";
        ctx.lineWidth = 1.3;
        ctx.strokeRect(a.left + 0.5, a.top + 0.5, a.right - a.left - 1, a.bottom - a.top - 1);
        ctx.restore();
      },
    };

    const datasets = c.ys.map((ys, i) => ({
      label: c.labels[i],
      data: c.xs.map((x, j) => ({ x, y: ys[j] })),
      borderColor: PAIRED[i % 12],
      backgroundColor: PAIRED[i % 12],
      borderWidth: 2,
      pointRadius: 0,
      fill: false,
      cubicInterpolationMode: "monotone" as const,
      order: c.ys.length - 1 - i,
      clip: 0,
    }));

    const tickFont = { family: AXIS_FONT, size: 15 };
    const chart = new Chart(ref.current as HTMLCanvasElement, {
      type: "line",
      data: { datasets },
      options: {
        responsive: false,
        animation: false,
        devicePixelRatio: 1,
        events: [],
        layout: { padding: { left: 0, top: padTop, right: padRight, bottom: 0 } },
        plugins: { legend: { display: false }, tooltip: { enabled: false } },
        scales: {
          x: {
            type: "linear",
            min: c.xMin,
            max: c.xMax,
            afterFit: (s: any) => { s.height = xAxisH; },
            afterBuildTicks: (s: any) => { s.ticks = X_TICKS.map((v) => ({ value: v })); },
            ticks: {
              font: tickFont, color: "#1a1a1a", padding: 8,
              minRotation: 90, maxRotation: 90, autoSkip: false,
              callback: (v: any) => String(v),
            },
            grid: { display: true, drawOnChartArea: false, drawTicks: true, tickLength: 9, color: "#333", lineWidth: 1 },
            border: { display: false },
            title: {
              display: c.xTitle, text: "Log-cpm", color: "#1a1a1a",
              font: { family: AXIS_FONT, size: 15 }, padding: { top: 0, bottom: 3 },
            },
          },
          y: {
            type: "linear",
            min: Y_RANGE[0],
            max: Y_RANGE[1],
            afterFit: (s: any) => { s.width = yAxisW; },
            afterBuildTicks: (s: any) => { s.ticks = Y_TICKS.map((v) => ({ value: v })); },
            ticks: {
              font: tickFont, color: "#1a1a1a", padding: 10,
              callback: (v: any) => Number(v).toFixed(2),
            },
            grid: { display: true, drawOnChartArea: false, drawTicks: true, tickLength: 9, color: "#333", lineWidth: 1 },
            border: { display: false },
            title: {
              display: true, text: "Density", color: "#1a1a1a",
              font: { family: AXIS_FONT, size: 15 }, padding: { top: c.yTitlePad, bottom: 0 },
            },
          },
        },
      },
      plugins: [deco],
    } as any);
    return () => chart.destroy();
  }, [cfg]);

  return (
    <canvas
      ref={ref}
      width={cfg.canvas.width}
      height={cfg.canvas.height}
      style={{ position: "absolute", left: cfg.canvas.left, top: cfg.canvas.top, width: cfg.canvas.width, height: cfg.canvas.height }}
    />
  );
}

function Title({ text, cx, baseline, size }: { text: string; cx: number; baseline: number; size: number }) {
  return (
    <div
      style={{
        position: "absolute", left: cx - 300, width: 600, top: baseline - 0.888 * size,
        textAlign: "center", fontFamily: TITLE_FONT, fontWeight: 700, fontSize: size,
        lineHeight: `${size}px`, color: "#000", whiteSpace: "nowrap",
      }}
    >
      {text}
    </div>
  );
}

export default function App() {
  return (
    <div style={{ position: "absolute", left: 0, top: 0, width: 992, height: 1452, background: "#fff", overflow: "hidden" }}>
      {PANELS.map((p, i) => (
        <Panel key={i} cfg={p} />
      ))}
      <Title text="TCGA-LUAD" cx={538} baseline={36} size={34.5} />
      <Title text="A. Raw data" cx={272} baseline={45} size={26} />
      <Title text="B. Filtered data" cx={812} baseline={45} size={26} />
      <Title text="TCGA-LUSC" cx={575} baseline={743} size={34.5} />
      <Title text="A. Raw data" cx={272} baseline={760} size={26} />
      <Title text="B. Filtered data" cx={812} baseline={760} size={26} />
    </div>
  );
}
